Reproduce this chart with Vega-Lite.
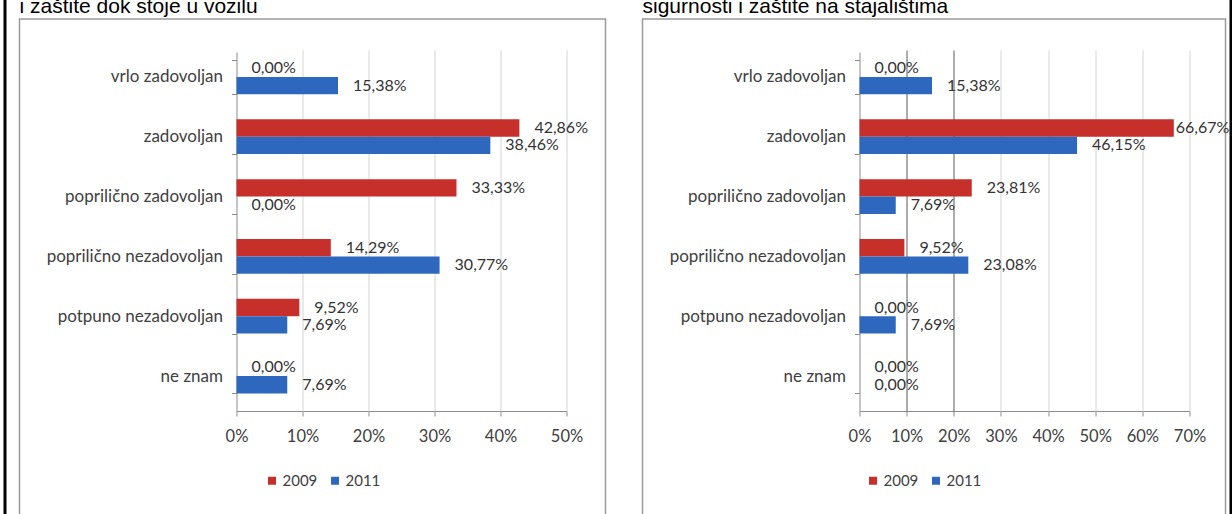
{
  "$schema": "https://vega.github.io/schema/vega-lite/v6.json",
  "padding": {"left": 3.5, "top": -5, "right": 0, "bottom": 0},
  "background": "white",
  "config": {
    "locale": {"number": {"decimal": ",", "thousands": ".", "grouping": [3], "currency": ["", " €"]}},
    "view": {"stroke": "#9a9a9a", "strokeWidth": 1.5},
    "axis": {"labelFont": "Lato", "labelFontSize": 16.5, "labelColor": "#404040", "domainColor": "#8c8c8c", "tickColor": "#8c8c8c"},
    "legend": {"labelFont": "Lato", "labelFontSize": 15, "labelColor": "#404040"}
  },
  "datasets": {
    "lijevo": [
      {"odgovor": "vrlo zadovoljan", "godina": "2009", "udio": 0},
      {"odgovor": "vrlo zadovoljan", "godina": "2011", "udio": 0.1538},
      {"odgovor": "zadovoljan", "godina": "2009", "udio": 0.4286},
      {"odgovor": "zadovoljan", "godina": "2011", "udio": 0.3846},
      {"odgovor": "poprilično zadovoljan", "godina": "2009", "udio": 0.3333},
      {"odgovor": "poprilično zadovoljan", "godina": "2011", "udio": 0},
      {"odgovor": "poprilično nezadovoljan", "godina": "2009", "udio": 0.1429},
      {"odgovor": "poprilično nezadovoljan", "godina": "2011", "udio": 0.3077},
      {"odgovor": "potpuno nezadovoljan", "godina": "2009", "udio": 0.0952},
      {"odgovor": "potpuno nezadovoljan", "godina": "2011", "udio": 0.0769},
      {"odgovor": "ne znam", "godina": "2009", "udio": 0},
      {"odgovor": "ne znam", "godina": "2011", "udio": 0.0769}
    ],
    "desno": [
      {"odgovor": "vrlo zadovoljan", "godina": "2009", "udio": 0},
      {"odgovor": "vrlo zadovoljan", "godina": "2011", "udio": 0.1538},
      {"odgovor": "zadovoljan", "godina": "2009", "udio": 0.6667},
      {"odgovor": "zadovoljan", "godina": "2011", "udio": 0.4615},
      {"odgovor": "poprilično zadovoljan", "godina": "2009", "udio": 0.2381},
      {"odgovor": "poprilično zadovoljan", "godina": "2011", "udio": 0.0769},
      {"odgovor": "poprilično nezadovoljan", "godina": "2009", "udio": 0.0952},
      {"odgovor": "poprilično nezadovoljan", "godina": "2011", "udio": 0.2308},
      {"odgovor": "potpuno nezadovoljan", "godina": "2009", "udio": 0},
      {"odgovor": "potpuno nezadovoljan", "godina": "2011", "udio": 0.0769},
      {"odgovor": "ne znam", "godina": "2009", "udio": 0},
      {"odgovor": "ne znam", "godina": "2011", "udio": 0}
    ]
  },
  "spacing": 35,
  "resolve": {"scale": {"color": "independent", "x": "independent", "y": "independent"}, "legend": {"color": "independent"}},
  "hconcat": [
    {
      "width": 586,
      "height": 496,
      "title": {"text": "i zaštite dok stoje u vozilu", "anchor": "start", "frame": "group", "font": "Liberation Sans", "fontSize": 21, "fontWeight": "normal", "color": "#000000", "offset": -7},
      "resolve": {"scale": {"y": "independent"}, "axis": {"x": "independent", "y": "independent"}},
      "layer": [
        {
          "data": {"name": "lijevo"},
          "encoding": {
            "y": {"field": "odgovor", "type": "nominal", "sort": null,
                  "scale": {"range": [33, 392], "paddingInner": 0.42, "paddingOuter": 0.21, "align": 0.3},
                  "axis": {"title": null, "offset": -217, "tickBand": "extent", "tickSize": 5, "labelPadding": 9, "grid": false, "labelFontSize": 17}},
            "yOffset": {"field": "godina", "type": "nominal", "sort": ["2009", "2011"]}
          },
          "resolve": {"axis": {"x": "independent"}},
          "layer": [
            {"mark": {"type": "bar"},
             "encoding": {
               "x": {"field": "udio", "type": "quantitative",
                     "scale": {"domain": [0, 0.5], "range": [217, 547], "nice": false},
                     "axis": {"title": null, "format": ".0%", "values": [0, 0.1, 0.2, 0.3, 0.4, 0.5], "offset": -104, "grid": false, "tickSize": 5, "labelPadding": 12, "labelOverlap": false, "labelFlush": false}},
               "color": {"field": "godina", "type": "nominal",
                 "scale": {"domain": ["2009", "2011"], "range": ["#c62f2a", "#2e68be"]},
                 "legend": {"title": null, "orient": "none", "legendX": 245, "legendY": 454, "direction": "horizontal", "symbolType": "square", "symbolSize": 64, "symbolStrokeWidth": 0, "columnPadding": 10, "labelOffset": 3}}}},
            {"mark": {"type": "text", "align": "left", "dx": 15, "font": "Lato", "fontSize": 16, "color": "#333333"},
             "encoding": {
               "x": {"field": "udio", "type": "quantitative",
                     "axis": {"title": null, "orient": "bottom", "offset": -104, "labels": false, "domain": false, "grid": false, "tickSize": -361, "tickColor": "#d4d4d4", "values": [0.1, 0.2, 0.3, 0.4, 0.5]}},
               "text": {"field": "udio", "type": "quantitative", "format": ".2%"}}}
          ]
        },
        {"data": {"values": []},
         "mark": {"type": "rule"},
         "encoding": {
           "y": {"datum": 0, "type": "quantitative",
                 "scale": {"domain": [0, 1], "range": [-21, 530]},
                 "axis": {"title": null, "orient": "left", "offset": 15, "labels": false, "ticks": false, "grid": false, "domain": true, "domainColor": "#000000", "domainWidth": 3}}}}
      ]
    },
    {
      "width": 583,
      "height": 496,
      "title": {"text": "sigurnosti i zaštite na stajalištima", "anchor": "start", "frame": "group", "font": "Liberation Sans", "fontSize": 21, "fontWeight": "normal", "color": "#000000", "offset": -7},
      "resolve": {"scale": {"y": "independent"}, "axis": {"x": "independent", "y": "independent"}},
      "layer": [
        {
          "data": {"name": "desno"},
          "encoding": {
            "y": {"field": "odgovor", "type": "nominal", "sort": null,
                  "scale": {"range": [33, 392], "paddingInner": 0.42, "paddingOuter": 0.21, "align": 0.3},
                  "axis": {"title": null, "offset": -217, "tickBand": "extent", "tickSize": 5, "labelPadding": 9, "grid": false, "labelFontSize": 17}},
            "yOffset": {"field": "godina", "type": "nominal", "sort": ["2009", "2011"]}
          },
          "resolve": {"axis": {"x": "independent"}},
          "layer": [
            {"mark": {"type": "bar"},
             "encoding": {
               "x": {"field": "udio", "type": "quantitative",
                     "scale": {"domain": [0, 0.7], "range": [217, 547], "nice": false},
                     "axis": {"title": null, "format": ".0%", "values": [0, 0.1, 0.2, 0.3, 0.4, 0.5, 0.6, 0.7], "offset": -104, "grid": false, "tickSize": 5, "labelPadding": 12, "labelOverlap": false, "labelFlush": false}},
               "color": {"field": "godina", "type": "nominal",
                 "scale": {"domain": ["2009", "2011"], "range": ["#c62f2a", "#2e68be"]},
                 "legend": {"title": null, "orient": "none", "legendX": 223, "legendY": 454, "direction": "horizontal", "symbolType": "square", "symbolSize": 64, "symbolStrokeWidth": 0, "columnPadding": 10, "labelOffset": 3}}}},
            {"transform": [{"filter": "datum.udio < 0.6"}],
             "mark": {"type": "text", "align": "left", "dx": 15, "font": "Lato", "fontSize": 16, "color": "#333333"},
             "encoding": {
               "x": {"field": "udio", "type": "quantitative",
                     "axis": {"title": null, "orient": "bottom", "offset": -104, "labels": false, "domain": false, "grid": false, "tickSize": -361,
                              "tickColor": {"condition": {"test": "datum.value <= 0.2", "value": "#5a5a5a"}, "value": "#d4d4d4"},
                              "values": [0.1, 0.2, 0.3, 0.4, 0.5, 0.6, 0.7]}},
               "text": {"field": "udio", "type": "quantitative", "format": ".2%"}}},
            {"transform": [{"filter": "datum.udio >= 0.6"}],
             "mark": {"type": "text", "align": "left", "dx": 2, "font": "Lato", "fontSize": 16, "color": "#333333"},
             "encoding": {
               "x": {"field": "udio", "type": "quantitative", "axis": null},
               "text": {"field": "udio", "type": "quantitative", "format": ".2%"}}}
          ]
        },
        {"data": {"values": []},
         "mark": {"type": "rule"},
         "encoding": {
           "y": {"datum": 0, "type": "quantitative",
                 "scale": {"domain": [0, 1], "range": [-21, 530]},
                 "axis": {"title": null, "orient": "right", "offset": 5, "labels": false, "ticks": false, "grid": false, "domain": true, "domainColor": "#000000", "domainWidth": 3}}}}
      ]
    }
  ]
}
